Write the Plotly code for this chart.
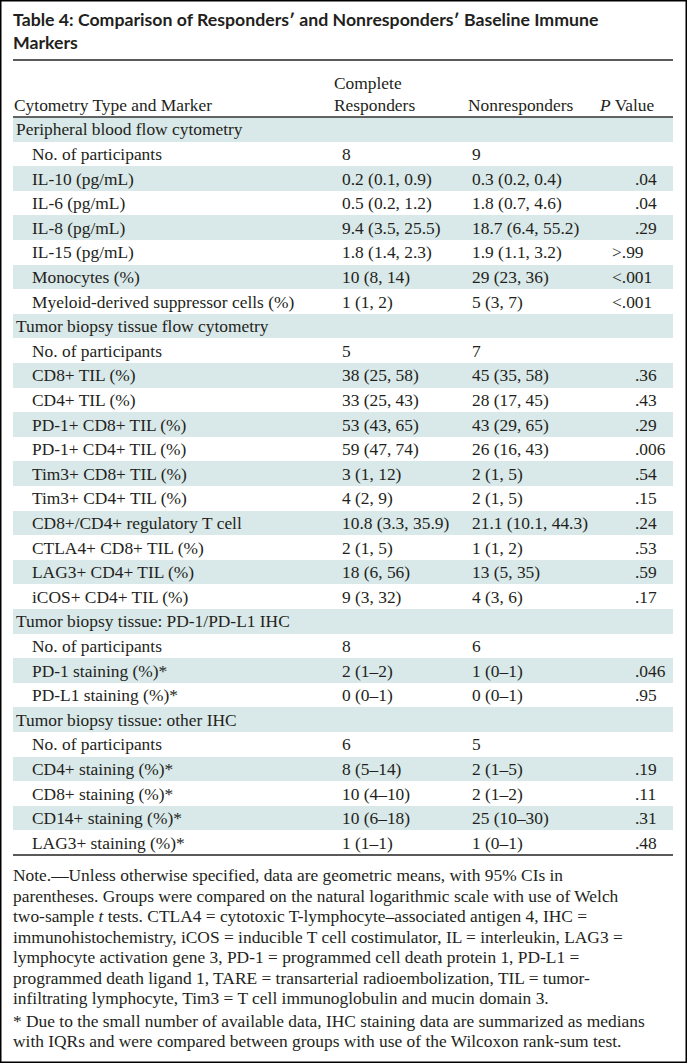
import plotly.graph_objects as go

# --- table content ---
sections = [
    "Peripheral blood flow cytometry",
    "Tumor biopsy tissue flow cytometry",
    "Tumor biopsy tissue: PD-1/PD-L1 IHC",
    "Tumor biopsy tissue: other IHC",
]

blood_markers = ["No. of participants", "IL-10 (pg/mL)", "IL-6 (pg/mL)", "IL-8 (pg/mL)",
                 "IL-15 (pg/mL)", "Monocytes (%)", "Myeloid-derived suppressor cells (%)"]
blood_cr = ["8", "0.2 (0.1, 0.9)", "0.5 (0.2, 1.2)", "9.4 (3.5, 25.5)", "1.8 (1.4, 2.3)",
            "10 (8, 14)", "1 (1, 2)"]
blood_nr = ["9", "0.3 (0.2, 0.4)", "1.8 (0.7, 4.6)", "18.7 (6.4, 55.2)", "1.9 (1.1, 3.2)",
            "29 (23, 36)", "5 (3, 7)"]
blood_p = ["", ".04", ".04", ".29", ">.99", "<.001", "<.001"]

tissue_markers = ["No. of participants", "CD8+ TIL (%)", "CD4+ TIL (%)", "PD-1+ CD8+ TIL (%)",
                  "PD-1+ CD4+ TIL (%)", "Tim3+ CD8+ TIL (%)", "Tim3+ CD4+ TIL (%)",
                  "CD8+/CD4+ regulatory T cell", "CTLA4+ CD8+ TIL (%)", "LAG3+ CD4+ TIL (%)",
                  "iCOS+ CD4+ TIL (%)"]
tissue_cr = ["5", "38 (25, 58)", "33 (25, 43)", "53 (43, 65)", "59 (47, 74)", "3 (1, 12)",
             "4 (2, 9)", "10.8 (3.3, 35.9)", "2 (1, 5)", "18 (6, 56)", "9 (3, 32)"]
tissue_nr = ["7", "45 (35, 58)", "28 (17, 45)", "43 (29, 65)", "26 (16, 43)", "2 (1, 5)",
             "2 (1, 5)", "21.1 (10.1, 44.3)", "1 (1, 2)", "13 (5, 35)", "4 (3, 6)"]
tissue_p = ["", ".36", ".43", ".29", ".006", ".54", ".15", ".24", ".53", ".59", ".17"]

pd_markers = ["No. of participants", "PD-1 staining (%)*", "PD-L1 staining (%)*"]
pd_cr = ["8", "2 (1–2)", "0 (0–1)"]
pd_nr = ["6", "1 (0–1)", "0 (0–1)"]
pd_p = ["", ".046", ".95"]

ihc_markers = ["No. of participants", "CD4+ staining (%)*", "CD8+ staining (%)*",
               "CD14+ staining (%)*", "LAG3+ staining (%)*"]
ihc_cr = ["6", "8 (5–14)", "10 (4–10)", "10 (6–18)", "1 (1–1)"]
ihc_nr = ["5", "2 (1–5)", "2 (1–2)", "25 (10–30)", "1 (0–1)"]
ihc_p = ["", ".19", ".11", ".31", ".48"]

title_lines = ["Table 4: Comparison of Responders′ and Nonresponders′ Baseline Immune", "Markers"]
col_headers = ["Cytometry Type and Marker", "Complete<br>Responders", "Nonresponders", "<i>P</i> Value"]

note_lines = [
    "Note.—Unless otherwise specified, data are geometric means, with 95% CIs in",
    "parentheses. Groups were compared on the natural logarithmic scale with use of Welch",
    "two-sample <i>t</i> tests. CTLA4 = cytotoxic T-lymphocyte–associated antigen 4, IHC =",
    "immunohistochemistry, iCOS = inducible T cell costimulator, IL = interleukin, LAG3 =",
    "lymphocyte activation gene 3, PD-1 = programmed cell death protein 1, PD-L1 =",
    "programmed death ligand 1, TARE = transarterial radioembolization, TIL = tumor-",
    "infiltrating lymphocyte, Tim3 = T cell immunoglobulin and mucin domain 3.",
    "* Due to the small number of available data, IHC staining data are summarized as medians",
    "with IQRs and were compared between groups with use of the Wilcoxon rank-sum test.",
]

# --- build rows (section header + its markers) ---
rows = []  # (label, cr, nr, p, is_section)
for sec, mk, cr, nr, pv in [(sections[0], blood_markers, blood_cr, blood_nr, blood_p),
                            (sections[1], tissue_markers, tissue_cr, tissue_nr, tissue_p),
                            (sections[2], pd_markers, pd_cr, pd_nr, pd_p),
                            (sections[3], ihc_markers, ihc_cr, ihc_nr, ihc_p)]:
    rows.append((sec, "", "", "", True))
    for r in zip(mk, cr, nr, pv):
        rows.append(r + (False,))

# --- geometry (pixel-like axes) ---
W, H = 687, 1063
LEFT, RIGHT = 13, 673
TOP_RULE = 60
HEAD_RULE = 117
PITCH = 24.6
X_SEC, X_LAB, X_CR, X_NR, X_P = 15, 31, 341, 471, 634
SERIF = "Liberation Serif, Times New Roman, serif"
FS = 17.4
INK = "#231f20"
SHADE = "#d9e8e8"

n = len(rows)
centers = [HEAD_RULE + PITCH * (i + 0.5) for i in range(n)]
bottom_rule = HEAD_RULE + PITCH * n

fig = go.Figure()

# shaded bands on alternating rows
shaded = [c for i, c in enumerate(centers) if i % 2 == 0]
fig.add_trace(go.Bar(y=shaded, x=[RIGHT - LEFT] * len(shaded), base=LEFT, orientation="h",
                     width=PITCH, marker=dict(color=SHADE, line=dict(width=0)),
                     hoverinfo="skip", showlegend=False))

# rules
for y, w, c in [(TOP_RULE, 2, "#5a5a5a"), (HEAD_RULE, 1.5, "#333333"), (bottom_rule, 1.5, "#222222")]:
    fig.add_trace(go.Scatter(x=[LEFT, RIGHT], y=[y, y], mode="lines",
                             line=dict(color=c, width=w), hoverinfo="skip", showlegend=False))


def txt(x, y, s, anchor="left", size=FS, family=SERIF, **kw):
    fig.add_annotation(x=x, y=y, xref="x", yref="y", text=s, showarrow=False,
                       xanchor=anchor, yanchor="middle", align="left", borderpad=0,
                       font=dict(family=family, size=size, color=INK, **kw))


# title
for k, line in enumerate(title_lines):
    txt(LEFT - 1, 19 + 23 * k, line, size=17.7, family="Lato, Liberation Sans, sans-serif", weight=700)

# column headers
txt(X_SEC - 2, 105, col_headers[0])
txt(X_CR - 8, 83, col_headers[1].split("<br>")[0])
txt(X_CR - 8, 105, col_headers[1].split("<br>")[1])
txt(X_NR - 4, 105, col_headers[2])
txt(598, 105, col_headers[3])

# body
for (lab, cr, nr, pv, sec), y in zip(rows, centers):
    txt(X_SEC if sec else X_LAB, y, lab)
    if cr:
        txt(X_CR, y, cr)
    if nr:
        txt(X_NR, y, nr)
    if pv:
        # values with a comparison sign hang out to the left
        x = X_P - 23 if pv[0] in "<>" else X_P
        txt(x, y, pv.replace("<", "&lt;").replace(">", "&gt;"))

# notes
for k, line in enumerate(note_lines):
    y = 875 + 20.5 * k + (2 if k >= 7 else 0)
    txt(LEFT - 1, y, line)

fig.update_layout(
    width=W, height=H, margin=dict(l=0, r=0, t=0, b=0),
    paper_bgcolor="white", plot_bgcolor="white", bargap=0,
    xaxis=dict(range=[0, W], visible=False, fixedrange=True),
    yaxis=dict(range=[H, 0], visible=False, fixedrange=True),
    shapes=[dict(type="rect", xref="paper", yref="paper", x0=0, y0=0, x1=1, y1=1,
                 line=dict(color="black", width=3))],
)

fig.write_html("out.html", config={"displayModeBar": False},
               post_script="document.body.style.margin='0px';")
